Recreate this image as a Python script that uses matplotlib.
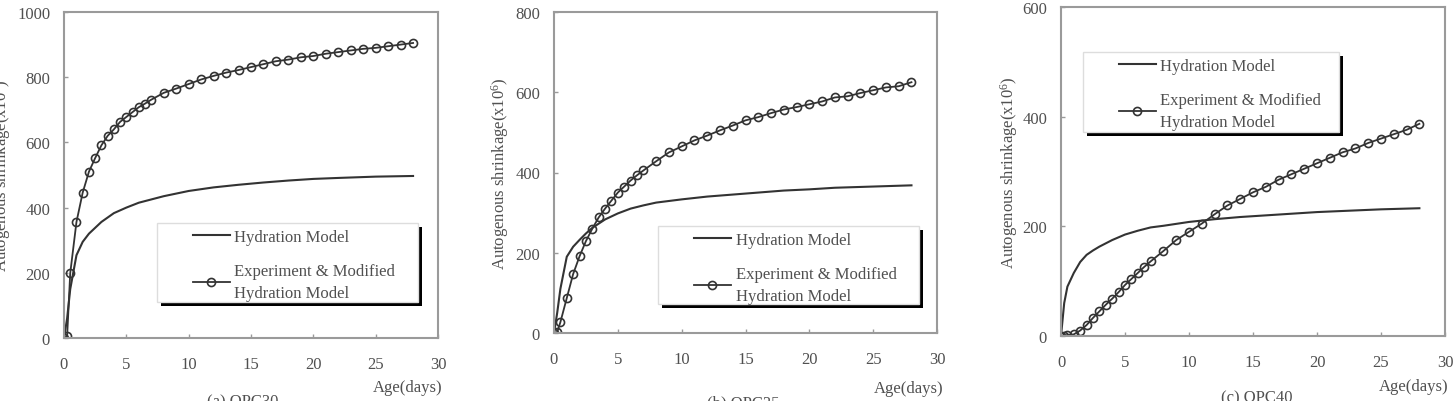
import matplotlib
matplotlib.use('Agg')
import matplotlib.pyplot as plt
import matplotlib.patheffects as pe
from matplotlib.patches import Rectangle

plt.rcParams['font.family'] = ['Liberation Serif', 'DejaVu Serif']
plt.rcParams['mathtext.default'] = 'regular'

# ages (days)
age_exp = [0, 0.25, 0.5, 1.0, 1.5, 2.0, 2.5, 3.0, 3.5, 4.0, 4.5, 5.0, 5.5, 6.0, 6.5, 7.0,
           8, 9, 10, 11, 12, 13, 14, 15, 16, 17, 18, 19, 20, 21, 22, 23, 24, 25, 26, 27, 28]
age_hyd = [0, 0.25, 0.5, 1, 1.5, 2, 2.5, 3, 4, 5, 6, 7, 8, 10, 12, 14, 16, 18, 20, 22, 25, 28]

# OPC30
opc30_exp = [0, 5, 199, 356, 446, 510, 552, 591, 620, 640, 663, 678, 693, 708, 719, 731,
             752, 765, 779, 793, 804, 814, 822, 831, 840, 849, 854, 861, 865, 872, 877,
             882, 887, 890, 895, 900, 905]
opc30_hyd = [0, 60, 150, 254, 295, 320, 338, 356, 383, 400, 415, 425, 435, 451, 462, 470,
             477, 483, 488, 491, 495, 497]

# OPC35
opc35_exp = [0, 2, 27, 87, 147, 191, 229, 260, 288, 310, 330, 350, 365, 380, 393, 405,
             428, 450, 465, 480, 492, 505, 517, 530, 538, 548, 557, 563, 570, 577, 587,
             590, 598, 605, 612, 615, 625]
opc35_hyd = [0, 50, 110, 190, 215, 232, 248, 262, 283, 298, 310, 318, 325, 333, 340, 345,
             350, 355, 358, 362, 365, 368]

# OPC40
opc40_exp = [0, 0, 2, 3, 10, 20, 33, 45, 57, 68, 80, 93, 104, 115, 126, 136,
             155, 175, 190, 205, 222, 238, 250, 262, 272, 285, 295, 305, 315, 325, 335,
             342, 352, 360, 368, 376, 387]
opc40_hyd = [0, 60, 90, 115, 135, 148, 156, 163, 175, 185, 192, 198, 201, 208, 213, 217,
             220, 223, 226, 228, 231, 233]

captions = ['(a) OPC30', '(b) OPC35', '(c) OPC40']
ymaxes = [1000, 800, 600]

TXT = '#505050'
LINE = '#333333'
SPINE = '#9a9a9a'
FS = 12

W, H = 1454, 402
fig = plt.figure(figsize=(W / 100, H / 100), dpi=100)

# axes boxes in pixels: left, right, top, bottom
boxes = [(64, 438, 13, 339), (554, 937, 13, 334), (1061, 1445, 8, 337)]
# legend boxes in pixels: left, right, top, bottom
leg_boxes = [(157, 418, 224, 303), (658, 919, 227, 305), (1083, 1339, 53, 133)]
ylabel_x = [13, 511, 1020]
agelab = [(442, 388), (943, 389), (1448, 387)]
cap_pos = [(243, 394), (743, 395), (1257, 390)]

datasets = [(opc30_exp, opc30_hyd), (opc35_exp, opc35_hyd), (opc40_exp, opc40_hyd)]

for i, (exp, hyd) in enumerate(datasets):
    l, r, t, b = boxes[i]
    ax = fig.add_axes([l / W, (H - b) / H, (r - l) / W, (b - t) / H])
    aw, ah = r - l, b - t

    h1, = ax.plot(age_hyd, hyd, color=LINE, lw=1.5, label='Hydration Model')
    h2, = ax.plot(age_exp, exp, color=LINE, lw=1.3, marker='o', ms=5.8,
                  mfc='none', mec=LINE, mew=1.2,
                  label='Experiment & Modified\nHydration Model')

    ax.set_xlim(0, 30)
    ax.set_ylim(0, ymaxes[i])
    ax.set_xticks(range(0, 31, 5))
    ax.set_yticks(range(0, ymaxes[i] + 1, 200))
    ax.tick_params(direction='in', length=3, width=1, color=SPINE,
                   labelsize=FS, labelcolor=TXT)
    ax.tick_params(axis='x', pad=13)
    ax.tick_params(axis='y', pad=10)
    for s in ax.spines.values():
        s.set_color(SPINE)
        s.set_linewidth(1.5)

    ax.set_ylabel('Autogenous shrinkage(x10$^{6}$)', fontsize=FS, color=TXT)
    ax.yaxis.set_label_coords((ylabel_x[i] - l) / aw, 0.5)

    ax_, ay_ = agelab[i]
    ax.text((ax_ - l) / aw, (b - ay_) / ah, 'Age(days)', transform=ax.transAxes,
            ha='right', va='center', fontsize=FS, color=TXT)

    cx, cy = cap_pos[i]
    fig.text(cx / W, (H - cy) / H, captions[i], ha='center', va='top',
             fontsize=FS, color=TXT)

    # legend frame with hard black shadow
    ll, lr, lt, lb = leg_boxes[i]
    rect = Rectangle(((ll - l) / aw, (b - lb) / ah), (lr - ll) / aw, (lb - lt) / ah,
                     transform=ax.transAxes, facecolor='white', edgecolor='#dddddd',
                     lw=1, zorder=5, clip_on=False,
                     path_effects=[pe.SimplePatchShadow(offset=(3, -3), shadow_rgbFace='black',
                                                        alpha=1), pe.Normal()])
    ax.add_patch(rect)
    leg = ax.legend(handles=[h1, h2], loc='upper left',
                    bbox_to_anchor=((ll + 30 - l) / aw, (b - lt) / ah),
                    frameon=False, fontsize=FS, labelcolor=TXT, handlelength=2.2,
                    handletextpad=0.3, borderaxespad=0, borderpad=0.35,
                    labelspacing=1.1)
    for txt in leg.get_texts():
        txt.set_linespacing(1.45)
    leg.set_zorder(6)

fig.savefig('out.png', dpi=100)
